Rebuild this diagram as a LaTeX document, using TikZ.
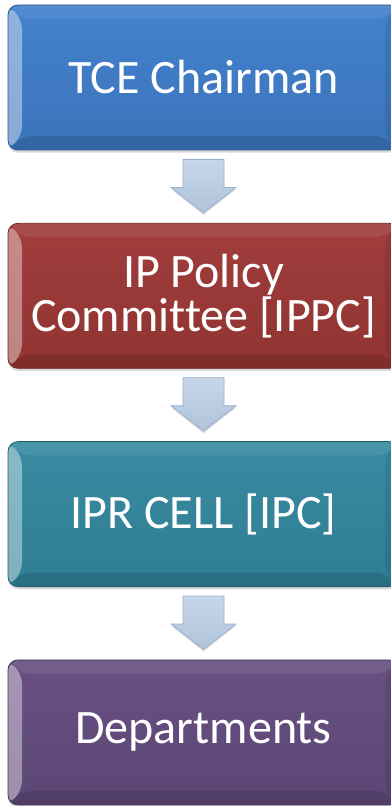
\documentclass[tikz,border=0pt]{standalone}
\usepackage{fontspec}
\setmainfont{Carlito}[Ligatures={NoCommon}]
\usetikzlibrary{calc,positioning,shadows}

\definecolor{chairblue}{HTML}{3F7ECB}
\definecolor{policyred}{HTML}{9D3836}
\definecolor{cellteal}{HTML}{33889F}
\definecolor{deptpurple}{HTML}{644C7F}
\definecolor{arrowfill}{HTML}{B9CDE5}
\definecolor{arrowedge}{HTML}{9AB1CF}

\tikzset{
  level/.style={rectangle, rounded corners=7.5pt,
    minimum width=293.25pt, minimum height=108.75pt,
    draw=#1!70!black, line width=.6pt,
    top color=#1!97!white, bottom color=#1!92!black,
    text=white, align=center, font=\fontsize{36}{33}\selectfont,
    drop shadow={opacity=.3, shadow xshift=0pt, shadow yshift=-2pt},
    path picture={
      \coordinate (sw) at (path picture bounding box.south west);
      \coordinate (ne) at (path picture bounding box.north east);
      % bevel strips
      \fill[white, opacity=.4] (sw) -- (sw|-ne) -- ($(sw|-ne)+(\bv,-\bv)$) -- ($(sw)+(\bv,\bv)$) -- cycle;
      \fill[white, opacity=.08] (sw|-ne) -- (ne) -- ($(ne)+(-\bv,-\bv)$) -- ($(sw|-ne)+(\bv,-\bv)$) -- cycle;
      \fill[black, opacity=.08] (ne) -- (ne|-sw) -- ($(ne|-sw)+(-\bv,\bv)$) -- ($(ne)+(-\bv,-\bv)$) -- cycle;
      \fill[black, opacity=.12] (sw) -- (ne|-sw) -- ($(ne|-sw)+(-\bv,\bv)$) -- ($(sw)+(\bv,\bv)$) -- cycle;
    }},
  flowarrow/.style={draw=arrowedge, line width=.6pt, line join=miter,
    top color=arrowfill!80!white, bottom color=arrowfill!95!black,
    drop shadow={opacity=.25, shadow xshift=0pt, shadow yshift=-1.5pt}}
}

\begin{document}
\begin{tikzpicture}[x=0.75pt, y=0.75pt, node distance=54.375pt]
\def\cx{203.5}
\def\cy{-77.5}
\def\bv{14}
\useasboundingbox (0,0) rectangle (391,-806);
\clip (0,0) rectangle (391,-806);

\node[level=chairblue] (chair) at (\cx,\cy) {TCE Chairman};
\node[level=policyred, below=of chair] (ippc) {IP Policy\\Committee [IPPC]};
\node[level=cellteal, below=of ippc] (cell) {IPR CELL [IPC]};
\node[level=deptpurple, below=of cell] (dept) {Departments};

\foreach \a/\b in {chair/ippc, ippc/cell, cell/dept}
  \draw[flowarrow] ($(\a.south)+(-20.5,-9)$) -- ($(\a.south)+(20.5,-9)$) -- ($(\a.south)+(20.5,-37)$) -- ($(\a.south)+(32.5,-37)$) -- ($(\b.north)+(0,10)$) -- ($(\a.south)+(-32.5,-37)$) -- ($(\a.south)+(-20.5,-37)$) -- cycle;
\end{tikzpicture}
\end{document}
